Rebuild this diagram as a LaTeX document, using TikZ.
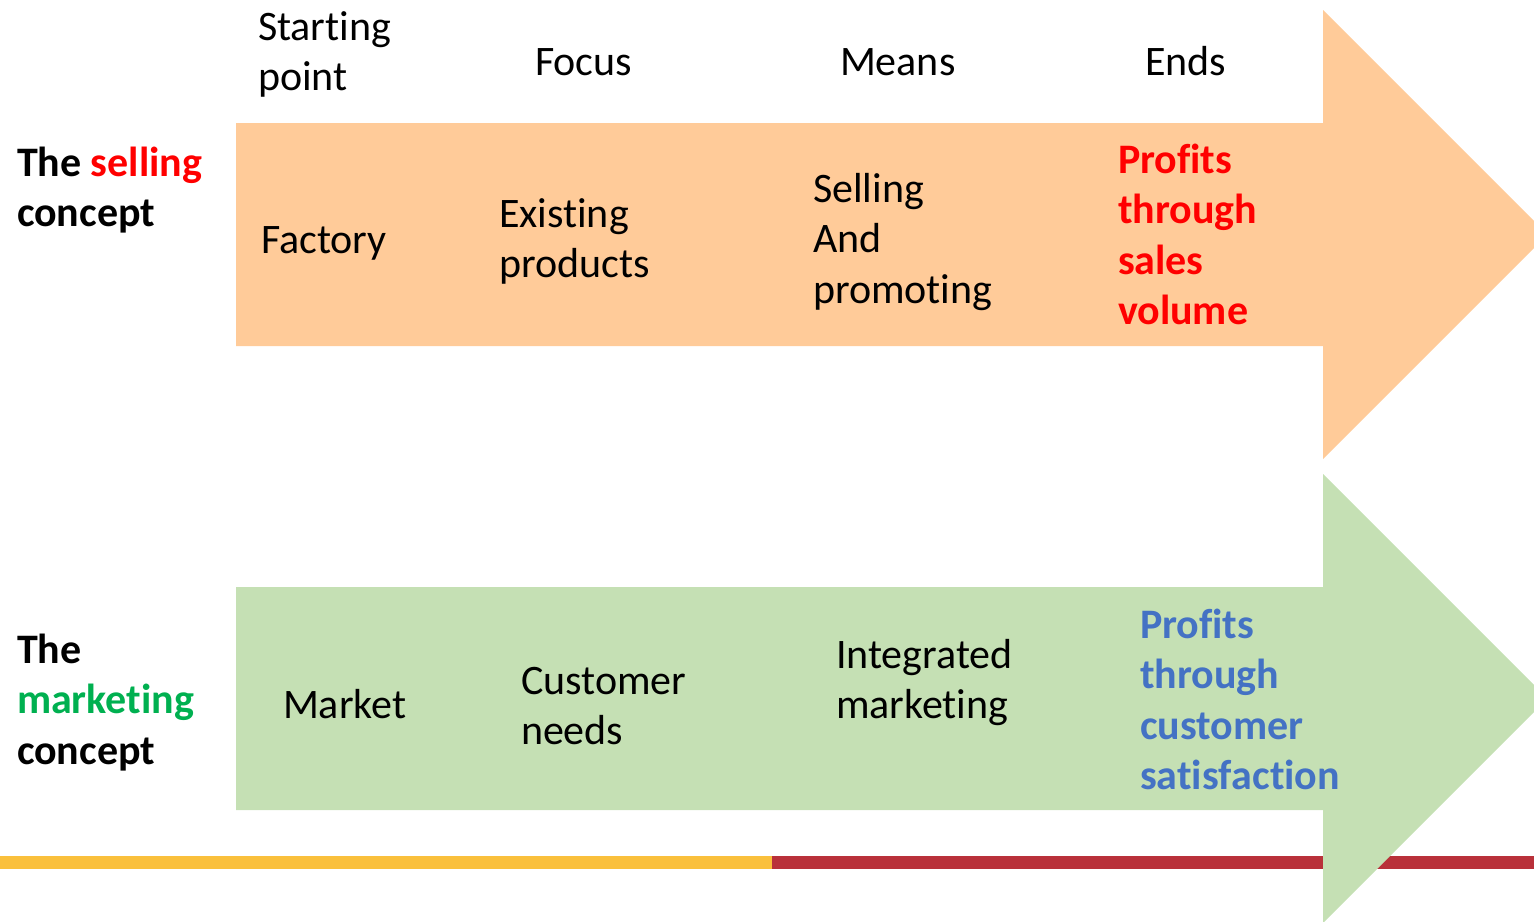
\documentclass[tikz,border=0pt]{standalone}
\usepackage{fontspec}
\setmainfont{Carlito}[RawFeature={-liga;-clig;-rlig;-dlig;-calt}]
\definecolor{orangefill}{HTML}{FFCB99}
\definecolor{greenfill}{HTML}{C5E0B4}
\definecolor{selred}{HTML}{FF0000}
\definecolor{mktgreen}{HTML}{00B050}
\definecolor{endblue}{HTML}{4472C4}
\definecolor{lineyellow}{HTML}{FAC03C}
\definecolor{linered}{HTML}{B9313A}
\newcommand{\lines}[1]{\begin{tabular}[t]{@{}l@{}}#1\end{tabular}}
\begin{document}
\begin{tikzpicture}[x=1pt,y=-1pt,
  lbl/.style={anchor=base west,inner sep=0pt,outer sep=0pt,font=\fontsize{42}{50.5}\selectfont},
  blbl/.style={lbl,font=\fontsize{42}{50.5}\selectfont\bfseries}]
\useasboundingbox (0,0) rectangle (1534,921);
\clip (0,0) rectangle (1534,921);
% bottom line
\fill[lineyellow] (0,856) rectangle (772,869);
\fill[linered] (772,856) rectangle (1534,869);
% arrows
\fill[orangefill] (236,123) -- (1323,123) -- (1323,10) -- (1547.5,234.5) -- (1323,459) -- (1323,346) -- (236,346) -- cycle;
\fill[greenfill] (236,587) -- (1323,587) -- (1323,474) -- (1547.5,698.5) -- (1323,923) -- (1323,810) -- (236,810) -- cycle;
% header
\node[lbl] (start) at (258,40) {\lines{Star\kern0pt ting\\point}};
\node[lbl] (focus) at (535,75) {Focus};
\node[lbl] (means) at (840,75) {Means};
\node[lbl] (ends) at (1145,75) {Ends};
% selling row
\node[blbl] (sell) at (17,176) {\lines{The \textcolor{selred}{selling}\\concept}};
\node[lbl] (factory) at (261,253) {Factory};
\node[lbl] (existing) at (499,227) {\lines{Existing\\products}};
\node[lbl] (selling) at (813,202) {\lines{Selling\\And\\promot\kern0pt ing}};
\node[blbl,text=selred] (profsell) at (1118,173) {\lines{Prof\kern0pt its\\through\\sales\\volume}};
% marketing row
\node[blbl] (mkt) at (17,663) {\lines{The\\\textcolor{mktgreen}{marketing}\\concept}};
\node[lbl] (market) at (283,718) {Market};
\node[lbl] (needs) at (521,694) {\lines{Customer\\needs}};
\node[lbl] (integ) at (836,668) {\lines{Integrated\\marketing}};
\node[blbl,text=endblue] (profmkt) at (1140,638) {\lines{Prof\kern0pt its\\through\\customer\\satisf\kern0pt act\kern0pt ion}};
\end{tikzpicture}
\end{document}
